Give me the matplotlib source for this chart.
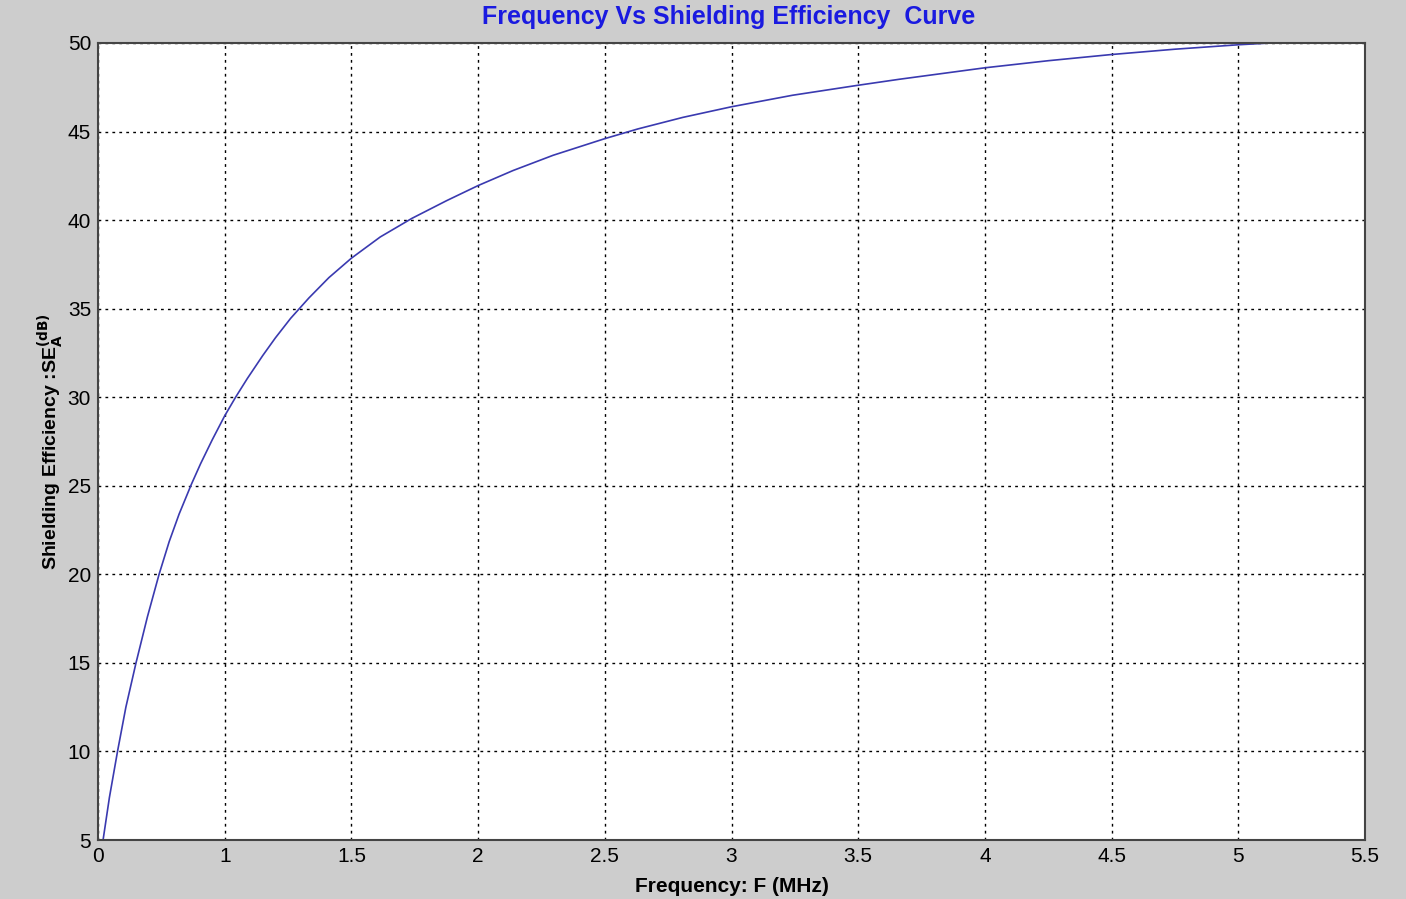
import matplotlib.pyplot as plt
import numpy as np

# values
freq = [0.52, 0.545, 0.577, 0.61, 0.65, 0.695, 0.741, 0.781, 0.82, 0.869, 0.905, 0.951,
        1.0, 1.043, 1.089, 1.15, 1.2, 1.26, 1.332, 1.411, 1.5, 1.614, 1.739, 1.876,
        2.0, 2.138, 2.296, 2.5, 2.631, 2.808, 3.0, 3.241, 3.493, 3.661, 4.0, 4.25,
        4.5, 4.75, 5.0, 5.19]
se = [5.0, 7.4, 10.0, 12.5, 15.0, 17.6, 20.0, 21.85, 23.4, 25.1, 26.25, 27.6,
      28.95, 30.0, 31.05, 32.35, 33.35, 34.45, 35.6, 36.75, 37.85, 39.05, 40.1, 41.1,
      41.95, 42.8, 43.66, 44.6, 45.15, 45.8, 46.4, 47.05, 47.6, 47.95, 48.6, 49.0,
      49.35, 49.65, 49.9, 50.05]

xticks = [0.5, 1, 1.5, 2, 2.5, 3, 3.5, 4, 4.5, 5, 5.5]
xlabels = ['0', '1', '1.5', '2', '2.5', '3', '3.5', '4', '4.5', '5', '5.5']
yticks = [5, 10, 15, 20, 25, 30, 35, 40, 45, 50]

plt.rcParams['font.family'] = ['Liberation Sans Narrow', 'Liberation Sans', 'DejaVu Sans']

fig = plt.figure(figsize=(14.06, 8.99), dpi=100, facecolor='#cdcdcd')
ax = fig.add_axes([98/1406, 1-840/899, (1365-98)/1406, (840-43)/899])
ax.set_facecolor('white')

ax.plot(freq, se, color='#3a3ab0', lw=1.2)

ax.set_xlim(0.5, 5.5)
ax.set_ylim(5, 50)
ax.set_xticks(xticks)
ax.set_xticklabels(xlabels)
ax.set_yticks(yticks)
ax.tick_params(labelsize=15, direction='in', length=0, pad=5)
ax.grid(True, color='black', linestyle=(0, (2, 3)), lw=1.0)
for s in ax.spines.values():
    s.set_color('#444444')
    s.set_linewidth(1.5)

ax.set_xlabel('Frequency: F (MHz)', fontsize=15, fontweight='bold', labelpad=8)
ax.set_ylabel(r'Shielding Efficiency :SE$_{\mathbf{A}}^{\mathbf{(dB)}}$', fontsize=14,
              fontweight='bold', family=['Liberation Sans', 'DejaVu Sans'], labelpad=2)
fig.text(0.518, 0.981, 'Frequency Vs Shielding Efficiency  Curve', color='#1a1ae0',
         fontsize=18, fontweight='bold', ha='center', va='center')

fig.savefig('out.png', dpi=100, facecolor=fig.get_facecolor())
